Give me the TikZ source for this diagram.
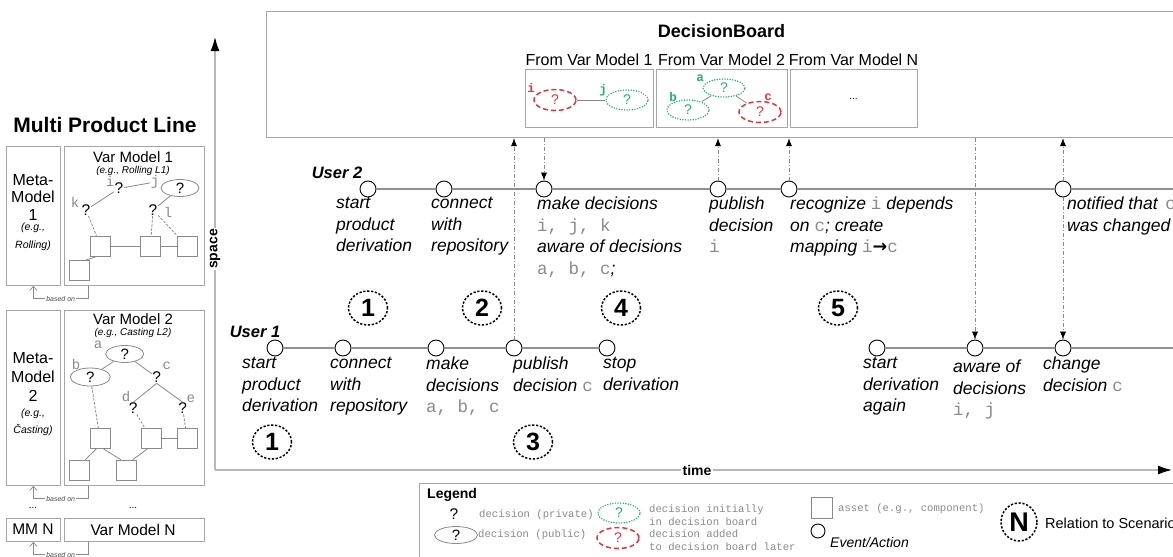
\documentclass[tikz,border=0pt]{standalone}
\usepackage{fontspec}
\setmainfont{Liberation Sans}
\setsansfont{Liberation Sans}
\setmonofont{Liberation Mono}
\newfontfamily\dejavu{DejaVu Sans}
\usetikzlibrary{arrows.meta,shapes.geometric}
\definecolor{frame}{HTML}{A6A6A6}
\definecolor{tline}{HTML}{909090}
\definecolor{lgray}{HTML}{8A8A8A}
\definecolor{dred}{HTML}{E5333D}
\definecolor{dgreen}{HTML}{22B36C}
\newcommand\fs[2]{\fontsize{#1}{#2}\selectfont}
\newcommand\mt[1]{{\upshape\mdseries\ttfamily\color{lgray}#1}}
\tikzset{
  ev/.style={circle, draw=black, fill=white, line width=0.9pt, minimum size=16pt, inner sep=0pt},
  tl/.style={draw=tline, line width=1.1pt},
  lab/.style={anchor=north west, inner sep=0pt, align=left, font=\fs{17.5}{21.5}\itshape, execute at begin node=\strut},
  user/.style={font=\fs{16.5}{16.5}\bfseries\itshape, inner sep=0pt},
  scen/.style={ellipse, draw=black, line width=1.5pt, dash pattern=on 2.2pt off 1.7pt, minimum width=39pt, minimum height=34pt, inner sep=0pt, font=\fs{25}{25}\bfseries},
  flow/.style={draw=lgray, line width=0.6pt, dash pattern=on 4pt off 2pt on 1pt off 2pt, -{Latex[length=8pt,width=6pt,color=black]}},
  axisline/.style={draw=frame!80, line width=1.4pt, -{Latex[length=14pt,width=9pt,color=black]}},
  axlab/.style={fill=white, inner sep=1.5pt, font=\fs{14}{14}\bfseries},
  frm/.style={draw=frame, line width=1pt, fill=white, anchor=north west, inner sep=0pt},
  pbox/.style={draw=frame, line width=0.8pt, anchor=north west, inner sep=0pt},
  asset/.style={draw=lgray, line width=0.8pt, fill=white, minimum size=20pt, inner sep=0pt},
  qm/.style={font=\fs{15.5}{15.5}, inner sep=0.5pt},
  vl/.style={font=\fs{14}{14}\ttfamily, text=lgray, inner sep=0.5pt},
  pub/.style={ellipse, draw=lgray, line width=0.8pt, minimum width=38pt, minimum height=17pt, inner sep=0pt, font=\fs{15}{15}},
  gl/.style={draw=lgray, line width=0.8pt},
  gd/.style={draw=lgray, line width=0.8pt, dash pattern=on 2.5pt off 1.5pt},
  based/.style={draw=lgray, line width=0.7pt, -{Straight Barb[length=4pt,width=7pt]}},
  basedlab/.style={fill=white, inner sep=1pt, font=\fs{7}{7}\itshape, text=black!70},
  gdec/.style={ellipse, draw=dgreen, text=dgreen, line width=1.6pt, dash pattern=on 0pt off 2.6pt, line cap=round, minimum width=42pt, minimum height=20pt, inner sep=0pt, font=\fs{14}{14}},
  rdec/.style={ellipse, draw=dred, text=dred, line width=1.5pt, dash pattern=on 5pt off 3pt, minimum width=42pt, minimum height=21pt, inner sep=0pt, font=\fs{14}{14}},
  glab/.style={font=\fs{12.5}{12.5}\ttfamily\bfseries, text=dgreen, inner sep=0pt},
  rlab/.style={font=\fs{12.5}{12.5}\ttfamily\bfseries, text=dred, inner sep=0pt},
  legtxt/.style={font=\fs{10.6}{13.5}\ttfamily, text=lgray, anchor=west, align=left, inner sep=0pt},
}
\begin{document}
\begin{tikzpicture}[x=1pt,y=-1pt]
\useasboundingbox (0,0) rectangle (1173,557);
\clip (0,0) rectangle (1173,557);

% ---------- axes ----------
\coordinate (origin) at (215,470);
\coordinate (spacetip) at (215,37);
\coordinate (timetip) at (1172,470);
\draw[axisline] (origin) -- (spacetip);
\draw[axisline] (origin) -- (timetip);
\node[axlab, rotate=90] (spl) at (215,249) {space};
\node[axlab] (tml) at (697,470) {time};

% ---------- decision board ----------
\node[frm, line width=1.2pt, minimum width=1000pt, minimum height=126pt] (board) at (266,11) {};
\node[font=\fs{18}{18}\bfseries] (dbt) at (721.5,31) {DecisionBoard};
\node[font=\fs{16}{16}] (f1) at (589,60) {From Var Model 1};
\node[font=\fs{16}{16}] (f2) at (721.5,60) {From Var Model 2};
\node[font=\fs{16}{16}] (f3) at (853.5,60) {From Var Model N};
\node[frm, minimum width=128pt, minimum height=58pt] (sb1) at (525,69) {};
\node[frm, minimum width=131pt, minimum height=58pt] (sb2) at (656,69) {};
\node[frm, minimum width=127pt, minimum height=58pt] (sb3) at (790,69) {};
\node[font=\fs{10}{10}] (dots3) at (853.5,99) {...};

\node[rdec] (ei) at (555,100) {?};
\node[rlab] (li) at (531,88) {i};
\node[gdec] (ej) at (627,100) {?};
\node[glab] (lj) at (603,90) {j};
\draw[gl] (ei) -- (ej);
\node[gdec, minimum height=18pt] (ea) at (724,88) {?};
\node[glab] (la) at (700,78) {a};
\node[gdec] (eb) at (688,110) {?};
\node[glab] (lb) at (673,97) {b};
\node[rdec] (ec) at (760,112) {?};
\node[rlab] (lc) at (768,97) {c};
\draw[gl] (ea) -- (eb);
\draw[gl] (ea) -- (ec);

% ---------- user 2 ----------
\node[ev] (u2a) at (368,189) {};
\node[ev] (u2b) at (444,189) {};
\node[ev] (u2c) at (544,189) {};
\node[ev] (u2d) at (718,189) {};
\node[ev] (u2e) at (789,189) {};
\node[ev] (u2f) at (1063,189) {};
\coordinate (u2end) at (1180,189);
\draw[tl] (u2a) -- (u2b);
\draw[tl] (u2b) -- (u2c);
\draw[tl] (u2c) -- (u2d);
\draw[tl] (u2d) -- (u2e);
\draw[tl] (u2e) -- (u2f);
\draw[tl] (u2f) -- (u2end);
\node[user] (user2) at (337,173) {User 2};
\node[lab] (t2a) at (336,197) {start\\product\\derivation};
\node[lab] (t2b) at (431,197) {connect\\with\\repository};
\node[lab] (t2c) at (537,197) {make decisions\\\mt{i, j, k}\\aware of decisions\\\mt{a, b, c};};
\node[lab] (t2d) at (709,197) {publish\\decision\\\mt{i}};
\node[lab] (t2e) at (790,197) {recognize \mt{i} depends\\on \mt{c}; create\\mapping \mt{i}{\upshape\bfseries\dejavu\color{black}→}\mt{c}};
\node[lab] (t2f) at (1067,197) {notified that \,\mt{c}\\was changed};

% ---------- user 1 ----------
\node[ev] (u1a) at (275,348) {};
\node[ev] (u1b) at (343,348) {};
\node[ev] (u1c) at (436,348) {};
\node[ev] (u1d) at (514,348) {};
\node[ev] (u1e) at (607,348) {};
\node[ev] (u1f) at (877,348) {};
\node[ev] (u1g) at (975,348) {};
\node[ev] (u1h) at (1063,348) {};
\coordinate (u1end) at (1180,348);
\draw[tl] (u1a) -- (u1b);
\draw[tl] (u1b) -- (u1c);
\draw[tl] (u1c) -- (u1d);
\draw[tl] (u1d) -- (u1e);
\draw[tl] (u1f) -- (u1g);
\draw[tl] (u1g) -- (u1h);
\draw[tl] (u1h) -- (u1end);
\node[user] (user1) at (255,332) {User 1};
\node[lab] (t1a) at (242,357) {start\\product\\derivation};
\node[lab] (t1b) at (330,357) {connect\\with\\repository};
\node[lab] (t1c) at (426,357) {make\\decisions\\\mt{a, b, c}};
\node[lab] (t1d) at (513,357) {publish\\decision \mt{c}};
\node[lab] (t1e) at (603,357) {stop\\derivation};
\node[lab] (t1f) at (863,357) {start\\derivation\\again};
\node[lab] (t1g) at (953,360) {aware of\\decisions\\\mt{i, j}};
\node[lab] (t1h) at (1043,357) {change\\decision \mt{c}};

% ---------- scenario markers ----------
\node[scen] (s2a) at (368,308) {1};
\node[scen] (s2b) at (482,308) {2};
\node[scen] (s2c) at (621,308) {4};
\node[scen] (s2d) at (838,308) {5};
\node[scen] (s1a) at (272,442) {1};
\node[scen] (s1b) at (533,442) {3};

% ---------- flows ----------
\draw[flow] (u1d) -- (u1d |- board.south);
\draw[flow] (u2c |- board.south) -- (u2c);
\draw[flow] (u2d) -- (u2d |- board.south);
\draw[flow] (u2e) -- (u2e |- board.south);
\draw[flow] (u1g |- board.south) -- (u1g);
\draw[flow] (u2f) -- (u2f |- board.south);
\draw[flow] (u2f) -- (u1h);

% ---------- left panel ----------
\node[font=\fs{21}{21}\bfseries] (mpl) at (105,125) {Multi Product Line};
\node[pbox, minimum width=54pt, minimum height=139pt] (mm1) at (6,146) {};
\node[pbox, minimum width=140pt, minimum height=139pt] (vm1) at (64,146) {};
\node[align=center, font=\fs{16}{17.5}, inner sep=0pt] (mm1t) at (33,197) {Meta-\\Model\\1};
\node[align=center, font=\fs{10.5}{18}\itshape, inner sep=0pt] (mm1s) at (33,237) {(e.g.,\\Rolling)};
\node[font=\fs{15}{15}, inner sep=0pt] (vm1t) at (133,157) {Var Model 1};
\node[font=\fs{10}{10}\itshape, inner sep=0pt] (vm1s) at (133,170.5) {(e.g., Rolling L1)};

\node[vl] (v1i) at (110,181) {i};
\node[qm] (v1qi) at (119,188.5) {?};
\node[vl] (v1j) at (155,182) {j};
\node[pub] (v1ej) at (180,188) {?};
\node[vl] (v1k) at (75,202) {k};
\node[qm] (v1qk) at (86,210) {?};
\node[qm] (v1ql) at (153,210) {?};
\node[vl] (v1l) at (168,212) {l};
\node[asset] (v1A) at (100.7,246) {};
\node[asset] (v1B) at (150.5,246) {};
\node[asset] (v1C) at (187,246) {};
\node[asset] (v1D) at (79.2,270.7) {};
\draw[gl] (v1qi) -- (v1j);
\draw[gl] (v1qk) -- (v1qi);
\draw[gl] (v1ql) -- (v1ej);
\draw[gd] (v1qk) -- (v1A);
\draw[gd] (v1ql) -- (v1B);
\draw[gd] (v1ql) -- (v1C);
\draw[gl] (v1A) -- (v1B);
\draw[gl] (v1B) -- (v1C);
\draw[gl] (v1A.250) -- (v1D.60);
\draw[based] ([xshift=24pt]vm1.south west) -- ++(0,13) -| node[basedlab, pos=0.25] (bo1) {based on} (mm1.south);

\node[pbox, minimum width=54pt, minimum height=175pt] (mm2) at (6,310) {};
\node[pbox, minimum width=140pt, minimum height=175pt] (vm2) at (64,310) {};
\node[align=center, font=\fs{16}{19}, inner sep=0pt] (mm2t) at (33,377) {Meta-\\Model\\2};
\node[align=center, font=\fs{10.5}{17}\itshape, inner sep=0pt] (mm2s) at (33,422) {(e.g.,\\Časting)};
\node[font=\fs{15}{15}, inner sep=0pt] (vm2t) at (133,319) {Var Model 2};
\node[font=\fs{10}{10}\itshape, inner sep=0pt] (vm2s) at (133,332.5) {(e.g., Casting L2)};

\node[vl] (v2a) at (98,344.5) {a};
\node[pub] (v2ea) at (124.7,354) {?};
\node[vl] (v2b) at (76,364) {b};
\node[pub, minimum width=40pt, minimum height=18pt] (v2eb) at (90.3,377) {?};
\node[vl] (v2c) at (166.7,366) {c};
\node[qm] (v2qc) at (156.7,377.3) {?};
\node[vl] (v2d) at (126,397) {d};
\node[qm] (v2qd) at (133.3,408.3) {?};
\node[vl] (v2e) at (190.7,398.3) {e};
\node[qm] (v2qe) at (182.7,408.3) {?};
\node[asset] (v2A) at (100,438.7) {};
\node[asset] (v2B) at (151,438.7) {};
\node[asset] (v2C) at (187,438.7) {};
\node[asset] (v2D) at (79.3,470) {};
\node[asset] (v2E) at (126.7,470) {};
\draw[gl] (v2ea) -- (v2eb);
\draw[gl] (v2ea) -- (v2qc);
\draw[gl] (v2qc.south) -- (v2qd.north);
\draw[gl] (v2qc.south) -- (v2qe.north);
\draw[gd] (v2eb) -- (v2A);
\draw[gd] (v2qd) -- (v2B);
\draw[gd] (v2qe) -- (v2C);
\draw[gl] (v2B) -- (v2C);
\draw[gl] (v2A.250) -- (v2D.60);
\draw[gl] (v2A.290) -- (v2E.120);
\draw[gl] (v2B.250) -- (v2E.60);
\draw[based] ([xshift=24pt]vm2.south west) -- ++(0,13) -| node[basedlab, pos=0.25] (bo2) {based on} (mm2.south);

\node[font=\fs{10}{10}] (dl) at (33,508) {...};
\node[font=\fs{10}{10}] (dr) at (133,508) {...};
\node[pbox, minimum width=54pt, minimum height=23pt] (mmN) at (6,518) {};
\node[pbox, minimum width=140pt, minimum height=23pt] (vmN) at (64,518) {};
\node[font=\fs{15.5}{15.5}] (mmNt) at (33,529.5) {MM N};
\node[font=\fs{15.5}{15.5}] (vmNt) at (133,529.5) {Var Model N};
\draw[based] ([xshift=24pt]vmN.south west) -- ++(0,13) -| node[basedlab, pos=0.25] (bo3) {based on} (mmN.south);

% ---------- legend ----------
\node[frm, minimum width=800pt, minimum height=120pt] (legend) at (419,483) {};
\node[font=\fs{14}{14}\bfseries, anchor=west, inner sep=0pt] (legtitle) at (427,495) {Legend};
\node[qm] (lq) at (454,514) {?};
\node[legtxt] (lqt) at (479,515) {decision (private)};
\node[pub, minimum width=43pt] (lpub) at (456,535) {?};
\node[legtxt] (lpubt) at (478,535) {decision (public)};
\node[gdec] (lg) at (619,513) {?};
\node[legtxt] (lgt) at (649,515) {decision initially\\in decision board};
\node[rdec] (lr) at (618,538) {?};
\node[legtxt] (lrt) at (649,540) {decision added\\to decision board later};
\node[asset, minimum size=21pt] (lasset) at (822,507.5) {};
\node[legtxt] (lat) at (838,509) {asset (e.g., component)};
\node[ev, minimum size=14pt] (lev) at (818,531) {};
\node[font=\fs{14}{14}\itshape, anchor=west, inner sep=0pt] (levt) at (830,542) {Event/Action};
\node[scen, minimum width=36pt, minimum height=38pt, font=\fs{27}{27}\bfseries] (lN) at (1019,522) {N};
\node[font=\fs{14.5}{14.5}, anchor=west, inner sep=0pt] (lNt) at (1045,523) {Relation to Scenario};
\end{tikzpicture}
\end{document}
